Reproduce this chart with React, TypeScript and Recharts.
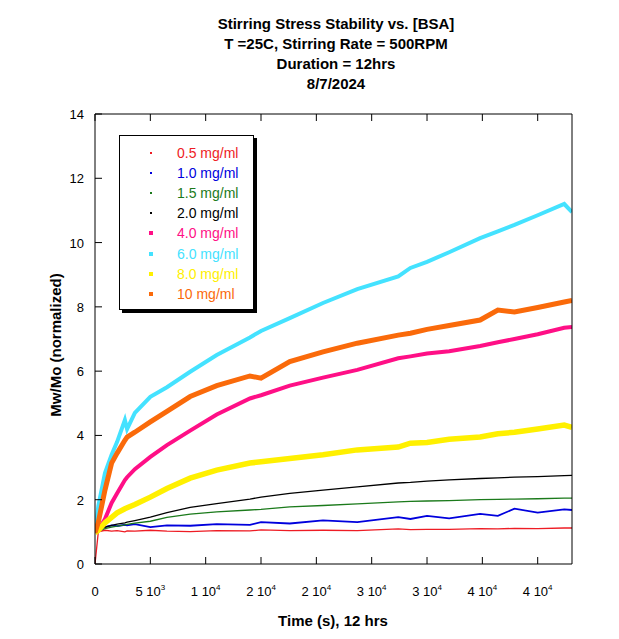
import { LineChart, Line, XAxis, YAxis, Legend } from 'recharts';

// time in seconds
const times = [0, 300, 900, 1500, 2000, 2700, 2900, 3600, 5000, 6500, 8600, 11000, 14000, 15000, 17600, 20600, 23700, 27400, 28500, 30000, 32000, 34800, 36400, 37900, 40000, 42400, 43100];

const bsa05 = [0, 1.0, 1.05, 1.02, 1.04, 1.0, 1.03, 1.02, 1.05, 1.02, 1.01, 1.04, 1.03, 1.06, 1.04, 1.05, 1.04, 1.09, 1.07, 1.08, 1.08, 1.1, 1.09, 1.11, 1.1, 1.12, 1.12];
const bsa10 = [1.0, 1.08, 1.15, 1.2, 1.18, 1.22, 1.2, 1.24, 1.15, 1.2, 1.19, 1.24, 1.22, 1.3, 1.26, 1.36, 1.3, 1.46, 1.4, 1.5, 1.42, 1.56, 1.5, 1.72, 1.6, 1.7, 1.68];
const bsa15 = [1.0, 1.02, 1.1, 1.15, 1.18, 1.22, 1.23, 1.27, 1.33, 1.45, 1.55, 1.62, 1.68, 1.7, 1.78, 1.82, 1.87, 1.93, 1.95, 1.96, 1.97, 2.0, 2.01, 2.02, 2.03, 2.05, 2.05];
const bsa20 = [1.0, 1.05, 1.15, 1.2, 1.24, 1.28, 1.3, 1.35, 1.46, 1.6, 1.76, 1.88, 2.02, 2.08, 2.2, 2.3, 2.4, 2.52, 2.54, 2.58, 2.62, 2.66, 2.68, 2.7, 2.72, 2.75, 2.76];
const bsa40 = [1.0, 1.05, 1.4, 1.9, 2.2, 2.61, 2.7, 2.95, 3.33, 3.7, 4.15, 4.65, 5.15, 5.25, 5.55, 5.8, 6.04, 6.4, 6.46, 6.55, 6.62, 6.78, 6.9, 7.0, 7.15, 7.35, 7.37];
const bsa60 = [1.0, 1.8, 2.83, 3.4, 3.8, 4.48, 4.2, 4.7, 5.2, 5.5, 5.98, 6.5, 7.05, 7.25, 7.65, 8.12, 8.55, 8.95, 9.21, 9.4, 9.7, 10.14, 10.35, 10.55, 10.85, 11.2, 10.95];
const bsa80 = [0.97, 1.05, 1.28, 1.45, 1.59, 1.72, 1.75, 1.85, 2.08, 2.35, 2.67, 2.92, 3.14, 3.18, 3.28, 3.4, 3.55, 3.64, 3.76, 3.78, 3.88, 3.95, 4.05, 4.1, 4.2, 4.32, 4.25];
const bsa100 = [0.97, 1.3, 2.3, 3.14, 3.45, 3.85, 3.95, 4.1, 4.42, 4.75, 5.21, 5.55, 5.85, 5.78, 6.3, 6.6, 6.87, 7.12, 7.18, 7.3, 7.42, 7.59, 7.9, 7.84, 7.98, 8.15, 8.2];

const seriesNames = ['0.5 mg/ml', '1.0 mg/ml', '1.5 mg/ml', '2.0 mg/ml', '4.0 mg/ml', '6.0 mg/ml', '8.0 mg/ml', '10 mg/ml'];
const seriesValues = [bsa05, bsa10, bsa15, bsa20, bsa40, bsa60, bsa80, bsa100];
const seriesColors = ['#ee1c24', '#0000dd', '#1b7a1b', '#000000', '#ff0f86', '#44e2ff', '#fff000', '#fa6a0a'];
const seriesWidths = [1.3, 1.8, 1.3, 1.3, 4, 4, 5.5, 5];

const xTicks = [0, 5000, 10000, 15000, 20000, 25000, 30000, 35000, 40000];
const xTickLabels = [['0', ''], ['5', '3'], ['1', '4'], ['2', '4'], ['2', '4'], ['3', '4'], ['3', '4'], ['4', '4'], ['4', '4']];
const yTicks = [0, 2, 4, 6, 8, 10, 12, 14];

const titleLines = ['Stirring Stress Stability vs. [BSA]', 'T =25C, Stirring Rate = 500RPM', 'Duration = 12hrs', '8/7/2024'];

const rows = times.map((t, i) => {
  const r: any = { t };
  seriesValues.forEach((s, k) => { r['s' + k] = s[i]; });
  return r;
});

const font = 'Liberation Sans, Arial, sans-serif';

// ticks point into the plot, like the original software does
const BottomTick = ({ x, y, index }: any) => {
  const [m, e] = xTickLabels[index];
  return (
    <g>
      <line x1={x} y1={y} x2={x} y2={y - 7} stroke="#000" />
      <text x={x} y={y + 32} textAnchor="middle" fontSize={13} fontFamily={font} fill="#000">
        {m}
        {e ? ' 10' : ''}
        {e ? <tspan dy={-6} fontSize={8}>{e}</tspan> : null}
      </text>
    </g>
  );
};

const TopTick = ({ x, y }: any) => <line x1={x} y1={y} x2={x} y2={y + 7} stroke="#000" />;

const LeftTick = ({ x, y, payload }: any) => (
  <g>
    <line x1={x} y1={y} x2={x + 7} y2={y} stroke="#000" />
    <text x={x - 11} y={y + 5} textAnchor="end" fontSize={13} fontFamily={font} fill="#000">{payload.value}</text>
  </g>
);

const RightTick = ({ x, y }: any) => <line x1={x} y1={y} x2={x - 7} y2={y} stroke="#000" />;

const renderLegend = () => (
  <div style={{ position: 'relative', width: 133, height: 173, background: '#fff', border: '1px solid #000', boxShadow: '3px 3px 0 #000', fontFamily: font, fontSize: 14 }}>
    {seriesNames.map((n, i) => {
      const sz = seriesWidths[i] > 3 ? 4 : 2;
      return (
        <div key={n} style={{ position: 'absolute', top: 9 + i * 20.1, left: 0, height: 17, width: 133 }}>
          <div style={{ position: 'absolute', left: 31 - sz / 2, top: 8 - sz / 2, width: sz, height: sz, background: seriesColors[i] }} />
          <span style={{ position: 'absolute', left: 57, top: 0, color: seriesColors[i], whiteSpace: 'nowrap' }}>{n}</span>
        </div>
      );
    })}
  </div>
);

export default function App() {
  return (
    <div style={{ position: 'absolute', left: 0, top: 0, width: 619, height: 639, background: '#fff' }}>
      <LineChart width={619} height={639} data={rows} margin={{ top: 113, right: 46, bottom: 74, left: 94 }}>
        <XAxis xAxisId="b" dataKey="t" type="number" domain={[0, 43100]} ticks={xTicks} height={1} tickSize={0} tickMargin={0} tickLine={false} tick={<BottomTick />} stroke="#000" allowDataOverflow interval={0} />
        <XAxis xAxisId="top" orientation="top" dataKey="t" type="number" domain={[0, 43100]} ticks={xTicks} height={1} tickSize={0} tickMargin={0} tickLine={false} tick={<TopTick />} stroke="#000" interval={0} />
        <YAxis yAxisId="l" domain={[0, 14]} ticks={yTicks} width={1} tickSize={0} tickMargin={0} tickLine={false} tick={<LeftTick />} stroke="#000" interval={0} />
        <YAxis yAxisId="r" orientation="right" domain={[0, 14]} ticks={yTicks} width={1} tickSize={0} tickMargin={0} tickLine={false} tick={<RightTick />} stroke="#000" interval={0} />
        {seriesNames.map((n, i) => (
          <Line key={n} xAxisId="b" yAxisId="l" dataKey={'s' + i} name={n} stroke={seriesColors[i]} strokeWidth={seriesWidths[i]} dot={false} type="linear" isAnimationActive={false} />
        ))}
        <Legend layout="vertical" align="center" verticalAlign="middle" content={renderLegend} wrapperStyle={{ left: 119, top: 135, width: 'auto' }} />
        <text x={333} y={620} textAnchor="middle" dominantBaseline="central" fontSize={15} fontWeight="bold" fontFamily={font} fill="#000">Time (s), 12 hrs</text>
        <text x={55} y={345} textAnchor="middle" dominantBaseline="central" transform="rotate(-90 55 345)" fontSize={15} fontWeight="bold" fontFamily={font} fill="#000">Mw/Mo (normalized)</text>
        {titleLines.map((l, i) => (
          <text key={l} x={336} y={23 + i * 20} textAnchor="middle" dominantBaseline="central" fontSize={15} fontWeight="bold" fontFamily={font} fill="#000">{l}</text>
        ))}
      </LineChart>
    </div>
  );
}
